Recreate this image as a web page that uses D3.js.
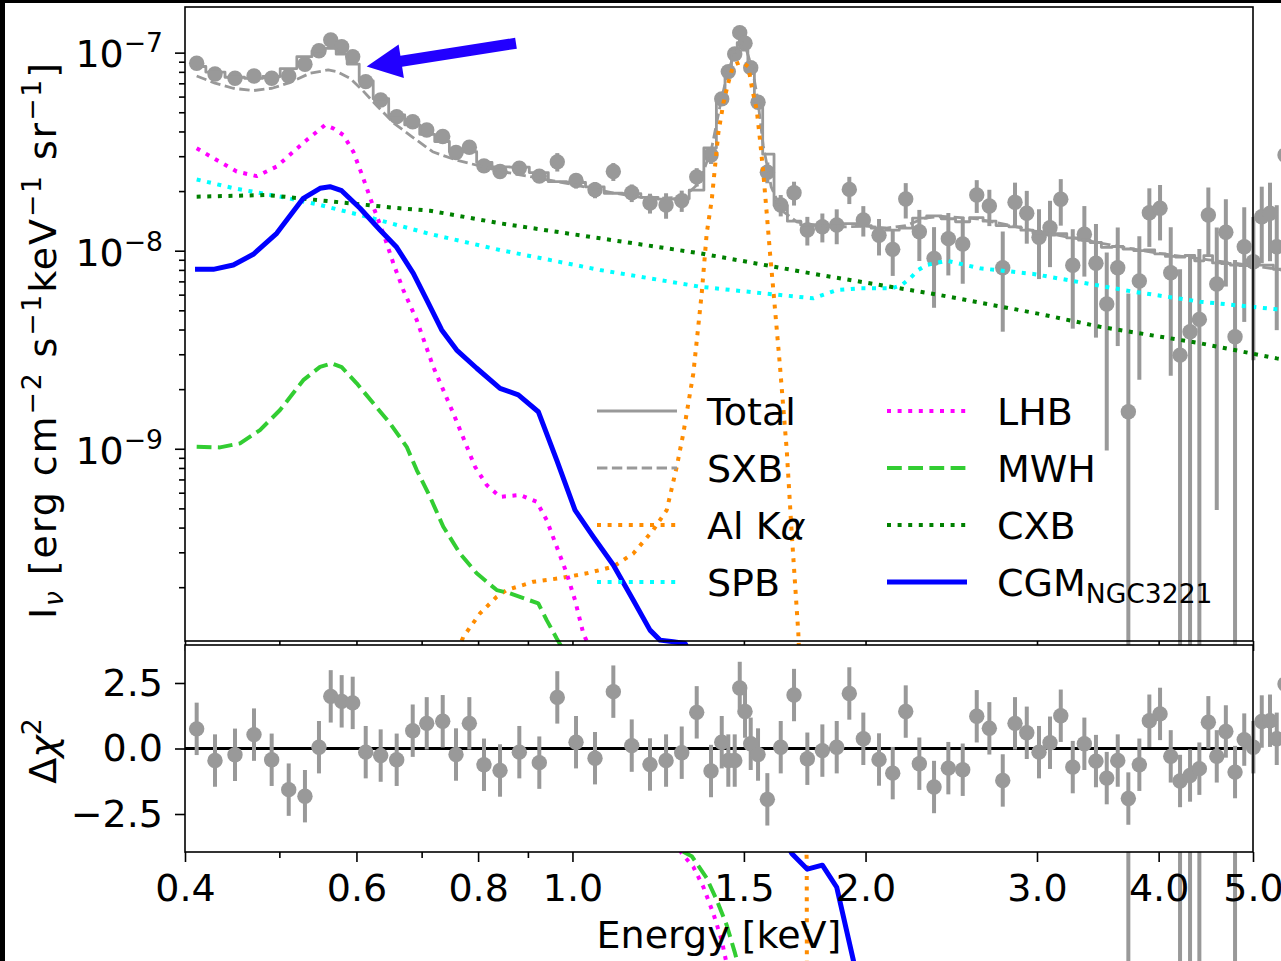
<!DOCTYPE html>
<html><head><meta charset="utf-8">
<script src="https://d3js.org/d3.v7.min.js"></script>
<style>
body{margin:0;background:#fff;}
svg{display:block;}
text{font-family:"DejaVu Sans";}
</style>
</head><body>
<svg id="chart" width="1281" height="961"></svg>
<script>
// ---------------- data ----------------
const energy = [0.4112,0.4294,0.4502,0.4709,0.4910,0.5112,0.5312,0.5491,0.5646,0.5794,
0.5947,0.6133,0.6354,0.6599,0.6854,0.7085,0.7358,0.7593,0.7836,0.8112,
0.8426,0.8819,0.9246,0.9648,1.0085,1.0548,1.1015,1.1505,1.2013,1.2478,
1.2949,1.3416,1.3878,1.4234,1.4457,1.4678,1.4853,1.5040,1.5244,1.5510,
1.5855,1.6365,1.6888,1.7428,1.8058,1.8682,1.9247,1.9895,2.0648,2.1328,
2.1994,2.2713,2.3517,2.4326,2.5168,2.6016,2.6803,2.7666,2.8480,2.9283,
3.0143,3.0937,3.1735,3.2648,3.3556,3.4489,3.5380,3.6312,3.7234,3.8215,
3.9130,4.0133,4.1161,4.2077,4.3084,4.4043,4.4990,4.5893,4.6891,4.7921,
4.8976,5.0042,5.1046,5.2052,5.2888,5.393];
const intensity = [8.84e-8,7.80e-8,7.42e-8,7.62e-8,7.42e-8,7.62e-8,8.74e-8,1.023e-7,1.159e-7,1.072e-7,
9.54e-8,7.14e-8,5.77e-8,4.75e-8,4.48e-8,4.07e-8,3.77e-8,3.13e-8,3.33e-8,2.68e-8,
2.51e-8,2.61e-8,2.38e-8,2.81e-8,2.26e-8,2.03e-8,2.51e-8,1.96e-8,1.74e-8,1.70e-8,
1.79e-8,2.36e-8,3.04e-8,5.84e-8,8.02e-8,9.85e-8,1.262e-7,1.116e-7,8.40e-8,5.62e-8,
2.49e-8,1.70e-8,1.96e-8,1.272e-8,1.321e-8,1.348e-8,2.04e-8,1.429e-8,1.196e-8,1.016e-8,
1.824e-8,1.247e-8,9.15e-9,1.150e-8,1.081e-8,1.911e-8,1.681e-8,8.20e-9,1.756e-8,1.545e-8,
1.169e-8,1.306e-8,1.818e-8,8.44e-9,1.210e-8,8.64e-9,5.38e-9,8.20e-9,1.538e-9,7.03e-9,
1.555e-8,1.637e-8,7.74e-9,2.97e-9,3.90e-9,4.50e-9,1.515e-8,6.79e-9,1.239e-8,3.68e-9,
1.047e-8,8.80e-9,1.485e-8,1.545e-8,1.047e-8,3.04e-8];
const intensityErr = [4.4e-9,3.9e-9,3.7e-9,3.8e-9,3.7e-9,4.4e-9,4.4e-9,5.0e-9,5.5e-9,5.0e-9,
4.5e-9,3.5e-9,2.9e-9,2.4e-9,2.3e-9,2.1e-9,2.0e-9,1.8e-9,1.8e-9,1.7e-9,
1.7e-9,1.8e-9,1.8e-9,3.0e-9,2.0e-9,1.9e-9,2.6e-9,2.0e-9,2.0e-9,2.5e-9,
2.2e-9,2.5e-9,3.0e-9,4.0e-9,5.0e-9,5.5e-9,6.0e-9,6.0e-9,5.0e-9,4.0e-9,
3.0e-9,2.1e-9,2.7e-9,2.1e-9,2.2e-9,2.7e-9,3.2e-9,2.5e-9,2.5e-9,2.7e-9,
3.7e-9,3.6e-9,4.0e-9,4.0e-9,4.0e-9,3.6e-9,3.5e-9,4.3e-9,4.5e-9,4.6e-9,
4.5e-9,4.8e-9,4.8e-9,4.4e-9,4.7e-9,5.0e-9,4.4e-9,4.9e-9,4.55e-9,4.8e-9,
5.1e-9,5.1e-9,5.4e-9,5.1e-9,5.4e-9,5.7e-9,5.7e-9,6.3e-9,5.8e-9,5.3e-9,
6.1e-9,6.0e-9,6.2e-9,6.6e-9,6.5e-9,9.0e-9];
const residual = [0.75,-0.46,-0.24,0.53,-0.43,-1.57,-1.82,0.05,1.99,1.80,
1.74,-0.14,-0.27,-0.43,0.68,0.96,1.04,-0.23,0.96,-0.62,
-0.84,-0.14,-0.54,1.95,0.24,-0.37,2.17,0.11,-0.61,-0.46,
-0.16,1.38,-0.86,0.24,-0.46,-0.46,2.31,1.41,0.18,-0.23,
-1.94,0.05,2.04,-0.39,-0.08,0.05,2.10,0.37,-0.42,-0.94,
1.41,-0.58,-1.47,-0.75,-0.81,1.23,0.77,-1.22,0.96,0.60,
-0.14,0.22,1.25,-0.71,0.18,-0.48,-1.13,-0.46,-1.91,-0.62,
1.06,1.32,-0.30,-1.24,-1.03,-0.77,1.00,-0.30,0.65,-0.90,
0.34,0.05,1.03,1.06,0.37,2.46];
const residualErr = 1;
const totalModel = [8.51e-8,7.98e-8,7.51e-8,7.42e-8,7.58e-8,8.31e-8,9.54e-8,1.020e-7,1.050e-7,9.82e-8,
8.76e-8,7.19e-8,5.85e-8,4.85e-8,4.32e-8,3.87e-8,3.56e-8,3.17e-8,3.16e-8,2.79e-8,
2.65e-8,2.64e-8,2.48e-8,2.23e-8,2.21e-8,2.10e-8,1.95e-8,1.94e-8,1.86e-8,1.82e-8,
1.83e-8,2.02e-8,3.30e-8,5.74e-8,8.25e-8,1.010e-7,1.123e-7,1.031e-7,8.31e-8,5.71e-8,
3.07e-8,1.69e-8,1.41e-8,1.35e-8,1.34e-8,1.33e-8,1.37e-8,1.34e-8,1.30e-8,1.27e-8,
1.30e-8,1.46e-8,1.50e-8,1.45e-8,1.40e-8,1.47e-8,1.41e-8,1.34e-8,1.32e-8,1.27e-8,
1.23e-8,1.20e-8,1.22e-8,1.16e-8,1.13e-8,1.10e-8,1.04e-8,1.05e-8,1.02e-8,1.00e-8,
1.01e-8,9.64e-9,9.36e-9,9.29e-9,9.46e-9,8.89e-9,9.45e-9,8.68e-9,8.62e-9,8.45e-9,
8.40e-9,8.50e-9,8.46e-9,8.45e-9,8.06e-9,8.0e-9];

const sxbE = [0.4112,0.4294,0.4482,0.4699,0.4914,0.5126,0.5376,0.5612,0.5730,0.5911,0.6083,0.6308,0.6558,0.6839,0.7184,0.7593,0.8031,0.85,0.92,1.0,1.1,1.2,1.3,1.35,1.39,1.42,1.445,1.467,1.49,1.51,1.53,1.55,1.57,1.60,1.64,1.70,1.80,1.9,2.0,2.1,2.2,2.3,2.4,2.6,2.8,3.0,3.3,3.6,4.0,4.5,5.0,5.35];
const sxbV = [7.62e-8,7.01e-8,6.61e-8,6.43e-8,6.61e-8,7.06e-8,7.87e-8,8.18e-8,8.02e-8,7.42e-8,6.48e-8,5.34e-8,4.40e-8,3.77e-8,3.16e-8,2.87e-8,2.68e-8,2.50e-8,2.33e-8,2.16e-8,1.96e-8,1.83e-8,1.86e-8,2.2e-8,3.3e-8,5.6e-8,8.1e-8,9.8e-8,1.08e-7,1.02e-7,8.3e-8,5.8e-8,3.4e-8,2.1e-8,1.6e-8,1.4e-8,1.33e-8,1.32e-8,1.33e-8,1.30e-8,1.34e-8,1.46e-8,1.49e-8,1.45e-8,1.35e-8,1.25e-8,1.15e-8,1.06e-8,9.7e-9,9.0e-9,8.4e-9,8.0e-9];

const alE = [0.7486,0.7725,0.8036,0.8360,0.8560,0.9116,0.9710,1.0343,1.1015,1.1548,1.2108,1.2497,1.2797,1.2998,1.3309,1.3576,1.3737,1.3901,1.4010,1.4119,1.4288,1.4437,1.4630,1.4923,1.5158,1.5280,1.5462,1.5583,1.5705,1.5832,1.5956,1.6081,1.6338,1.6599,1.6796,1.7061,1.7403,1.745];
const alV = [7.6e-11,1.123e-10,1.475e-10,1.789e-10,1.934e-10,2.13e-10,2.22e-10,2.35e-10,2.54e-10,2.96e-10,3.89e-10,4.90e-10,8.11e-10,1.196e-9,2.40e-9,6.09e-9,1.224e-8,1.804e-8,2.66e-8,3.92e-8,5.55e-8,6.87e-8,8.67e-8,9.01e-8,8.50e-8,6.73e-8,5.14e-8,3.62e-8,2.46e-8,1.545e-8,9.70e-9,6.33e-9,2.59e-9,9.85e-10,3.74e-10,1.168e-10,8.37e-12,1e-30];

const spbE = [0.4112,0.4484,0.5047,0.5505,0.6147,0.7140,0.8426,1.0674,1.3522,1.5705,1.7676,1.8682,1.9741,2.1278,2.1787,2.2219,2.2659,2.3114,2.4234,2.6220,2.9744,3.7674,4.4116,5.2888,5.38];
const spbV = [2.29e-8,2.07e-8,1.862e-8,1.701e-8,1.485e-8,1.214e-8,1.008e-8,7.99e-9,6.58e-9,6.09e-9,5.75e-9,6.33e-9,6.46e-9,6.46e-9,6.71e-9,7.25e-9,7.99e-9,8.47e-9,8.90e-9,8.15e-9,7.63e-9,6.21e-9,5.53e-9,5.06e-9,5.03e-9];

const lhbE = [0.4112,0.4311,0.4520,0.4739,0.4969,0.5168,0.5334,0.5570,0.5680,0.5816,0.5956,0.6098,0.6244,0.6393,0.6547,0.6703,0.6919,0.7196,0.7545,0.7942,0.8165,0.8426,0.8834,0.9190,0.9409,0.9635,0.9865,1.0061,1.0260,1.2949,1.3309,1.3627,1.3954,1.4234,1.4516,1.4846];
const lhbV = [3.29e-8,2.87e-8,2.51e-8,2.38e-8,2.66e-8,3.16e-8,3.62e-8,4.31e-8,4.15e-8,3.84e-8,3.16e-8,2.32e-8,1.668e-8,1.224e-8,8.64e-9,6.33e-9,4.47e-9,2.59e-9,1.51e-9,8.11e-10,6.56e-10,5.72e-10,5.84e-10,5.40e-10,4.36e-10,3.20e-10,2.35e-10,1.72e-10,1.168e-10,9.05e-12,7.74e-12,6.14e-12,4.50e-12,3.30e-12,2.07e-12,1.16e-12];

const mwhE = [0.4112,0.4345,0.4556,0.4776,0.5008,0.5291,0.5505,0.5659,0.5794,0.6004,0.6244,0.6496,0.6757,0.6919,0.7140,0.7368,0.7665,0.7974,0.8360,0.8627,0.9224,0.9409,0.9635,1.2897,1.3259,1.3737,1.4066,1.4403,1.4688,1.5040];
const mwhV = [1.023e-9,1.016e-9,1.065e-9,1.243e-9,1.569e-9,2.22e-9,2.59e-9,2.70e-9,2.58e-9,2.14e-9,1.696e-9,1.344e-9,1.023e-9,7.81e-10,5.72e-10,4.04e-10,2.96e-10,2.35e-10,1.934e-10,1.861e-10,1.657e-10,1.364e-10,1.102e-10,9.40e-12,8.77e-12,6.79e-12,5.26e-12,3.93e-12,2.84e-12,1.85e-12];

const cxbE = [0.4112,0.4853,0.5680,0.6651,0.7140,0.8426,1.0674,1.3522,1.7958,2.3853,3.0219,3.4824,4.4116,5.2888,5.38];
const cxbV = [1.874e-8,1.911e-8,1.769e-8,1.637e-8,1.592e-8,1.375e-8,1.155e-8,9.70e-9,7.54e-9,5.97e-9,4.79e-9,4.13e-9,3.41e-9,2.86e-9,2.82e-9];

const cgmE = [0.4096,0.4277,0.4484,0.4701,0.4969,0.5291,0.5505,0.5636,0.5794,0.6051,0.6344,0.6599,0.6864,0.7085,0.7340,0.7605,0.7974,0.8426,0.8798,0.9224,0.9635,1.0061,1.0506,1.1015,1.1548,1.2013,1.2301,1.2694,1.3050,1.6796,1.7428,1.8058,1.8682,1.9430,1.9895,2.0648];
const cgmV = [8.05e-9,8.05e-9,8.47e-9,9.59e-9,1.224e-8,1.839e-8,2.066e-8,2.104e-8,2.009e-8,1.637e-8,1.272e-8,1.040e-8,7.69e-9,5.64e-9,3.98e-9,3.15e-9,2.55e-9,2.02e-9,1.87e-9,1.538e-9,8.77e-10,4.90e-10,3.59e-10,2.59e-10,1.72e-10,1.214e-10,1.081e-10,1.060e-10,1.040e-10,9.05e-12,7.54e-12,7.90e-12,6.11e-12,2.62e-12,1.3e-12,5e-13];

const zeroLineE = [0.4, 4.9];
const arrowFrom = [0.875, 1.116e-7];
const arrowTo = [0.6147, 8.50e-8];

const xTicks = [0.4,0.6,0.8,1.0,1.5,2.0,3.0,4.0,5.0];
const xTickLabels = ["0.4","0.6","0.8","1.0","1.5","2.0","3.0","4.0","5.0"];
const xMinorTicks = [0.5,0.7,0.9];
const yTopTicks = [1e-9,1e-8,1e-7];
const yTopExponents = ["\u22129","\u22128","\u22127"];
const yBotTicks = [-2.5,0.0,2.5];
const yBotTickLabels = ["\u22122.5","0.0","2.5"];
const legendLabels = ["Total","SXB","Al K\u03b1","SPB","LHB","MWH","CXB","CGM_NGC3221"];

// ---------------- layout ----------------
const W = 1281, H = 961;
const X0 = 185, X1 = 1253, TT = 7, TB = 641, BT = 645, BB = 852;
const FS = 38;
const GRAY = "#999999";

const x = d3.scaleLog().domain([0.4, 5.0]).range([X0, X1]);
const yT = d3.scaleLog().domain([1.07e-10, 1.7e-7]).range([TB, TT]);
const yB = d3.scaleLinear().domain([-3.95, 3.95]).range([BB, BT]);
const FLOOR = 1e-16;
const yv = v => yT(Math.max(v, FLOOR));

const svg = d3.select("#chart");
svg.append("rect").attr("width", W).attr("height", H).attr("fill", "#fff");

function styleAxis(g) {
  g.select(".domain").remove();
  g.selectAll(".tick line").attr("stroke", "#000").attr("stroke-width", 1.6);
  g.attr("font-family", "DejaVu Sans").attr("font-size", FS);
  g.selectAll(".tick text").attr("fill", "#000");
}

// ================= TOP PANEL =================
const gTop = svg.append("g");

gTop.append("g").attr("transform", `translate(0,${TB})`)
  .call(d3.axisBottom(x).tickValues(xTicks).tickSize(10).tickFormat(""))
  .call(styleAxis);
gTop.append("g").attr("transform", `translate(0,${TB})`)
  .call(d3.axisBottom(x).tickValues(xMinorTicks).tickSize(6).tickFormat(""))
  .call(styleAxis);

const gyT = gTop.append("g").attr("transform", `translate(${X0},0)`)
  .call(d3.axisLeft(yT).tickValues(yTopTicks).tickSize(10).tickFormat(""))
  .call(styleAxis);
gyT.selectAll(".tick").each(function(d, i) {
  const t = d3.select(this).append("text")
    .attr("x", -22).attr("y", 14.3).attr("text-anchor", "end").attr("fill", "#000")
    .attr("font-size", FS);
  t.append("tspan").text("10");
  t.append("tspan").attr("font-size", FS * 0.7).attr("dy", -15).text(yTopExponents[i]);
});
const yMinor = yT.ticks().filter(v => Math.abs(Math.log10(v) - Math.round(Math.log10(v))) > 1e-6);
gTop.append("g").attr("transform", `translate(${X0},0)`)
  .call(d3.axisLeft(yT).tickValues(yMinor).tickSize(6).tickFormat(""))
  .call(styleAxis);

// data points with error bars (top)
const pts = energy.map((e, i) => ({e, v: intensity[i], s: intensityErr[i]}));
const gData = gTop.append("g");
gData.selectAll("line.err").data(pts).join("line")
  .attr("x1", d => x(d.e)).attr("x2", d => x(d.e))
  .attr("y1", d => yv(d.v - d.s)).attr("y2", d => yv(d.v + d.s))
  .attr("stroke", GRAY).attr("stroke-width", 4);
gData.selectAll("circle").data(pts).join("circle")
  .attr("cx", d => x(d.e)).attr("cy", d => yv(d.v)).attr("r", 7.7).attr("fill", GRAY);

// model lines
const line = d3.line().x(d => x(d[0])).y(d => yv(d[1]));
const zipE = (E, V) => E.map((e, i) => [e, V[i]]);
const models = [
  {data: zipE(energy, totalModel), color: GRAY, w: 2.8, dash: null, step: true},
  {data: zipE(sxbE, sxbV), color: GRAY, w: 2.8, dash: "10.4,4.5"},
  {data: zipE(alE, alV), color: "#ff8c00", w: 4, dash: "4,6.6"},
  {data: zipE(spbE, spbV), color: "#00ffff", w: 4, dash: "4,6.6"},
  {data: zipE(lhbE, lhbV), color: "#ff00ff", w: 4, dash: "4,6.6"},
  {data: zipE(mwhE, mwhV), color: "#32cd32", w: 4, dash: "14.8,6.4"},
  {data: zipE(cxbE, cxbV), color: "#008000", w: 4, dash: "4,6.6"},
  {data: zipE(cgmE, cgmV), color: "#0000ff", w: 5, dash: null}
];
models.forEach(m => {
  const ln = m.step ? d3.line().x(d => x(d[0])).y(d => yv(d[1])).curve(d3.curveStep) : line;
  gTop.append("path").attr("d", ln(m.data)).attr("fill", "none")
    .attr("stroke", m.color).attr("stroke-width", m.w)
    .attr("stroke-dasharray", m.dash).attr("stroke-linejoin", "round");
});

// arrow
(function() {
  const p0 = [x(arrowFrom[0]), yv(arrowFrom[1])];
  const p1 = [x(arrowTo[0]), yv(arrowTo[1])];
  const dx = p1[0] - p0[0], dy = p1[1] - p0[1], L = Math.hypot(dx, dy);
  const u = [dx / L, dy / L], n = [-u[1], u[0]];
  const hl = 35, hw = 17, sw = 5.5;
  const b = [p1[0] - u[0] * hl, p1[1] - u[1] * hl];
  const P = [
    [p0[0] + n[0] * sw, p0[1] + n[1] * sw],
    [b[0] + n[0] * sw, b[1] + n[1] * sw],
    [b[0] + n[0] * hw, b[1] + n[1] * hw],
    p1,
    [b[0] - n[0] * hw, b[1] - n[1] * hw],
    [b[0] - n[0] * sw, b[1] - n[1] * sw],
    [p0[0] - n[0] * sw, p0[1] - n[1] * sw]
  ];
  gTop.append("path").attr("d", "M" + P.map(p => p.join(",")).join("L") + "Z").attr("fill", "#2200ff");
})();

// legend
const legStyles = [
  {color: GRAY, w: 2.8, dash: null},
  {color: GRAY, w: 2.8, dash: "10.4,4.5"},
  {color: "#ff8c00", w: 4, dash: "4,6.6"},
  {color: "#00ffff", w: 4, dash: "4,6.6"},
  {color: "#ff00ff", w: 4, dash: "4,6.6"},
  {color: "#32cd32", w: 4, dash: "14.8,6.4"},
  {color: "#008000", w: 4, dash: "4,6.6"},
  {color: "#0000ff", w: 5, dash: null}
];
const rowsY = [411, 468, 525, 582], colHx = [597, 887], colTx = [707, 997];
const gLeg = gTop.append("g");
legendLabels.forEach((lab, i) => {
  const c = Math.floor(i / 4), r = i % 4, s = legStyles[i];
  gLeg.append("line").attr("x1", colHx[c]).attr("x2", colHx[c] + 80)
    .attr("y1", rowsY[r]).attr("y2", rowsY[r])
    .attr("stroke", s.color).attr("stroke-width", s.w).attr("stroke-dasharray", s.dash);
  const t = gLeg.append("text").attr("x", colTx[c]).attr("y", rowsY[r] + 13.8)
    .attr("font-size", FS).attr("fill", "#000");
  if (lab.indexOf("_") >= 0) {
    const [a, b] = lab.split("_");
    t.append("tspan").text(a);
    t.append("tspan").attr("font-size", FS * 0.7).attr("dy", 7).text(b);
  } else if (lab.indexOf("\u03b1") >= 0) {
    t.append("tspan").text(lab.replace("\u03b1", ""));
    t.append("tspan").attr("font-style", "italic").text("\u03b1");
  } else {
    t.text(lab);
  }
});

// top frame
gTop.append("rect").attr("x", X0).attr("y", TT).attr("width", X1 - X0).attr("height", TB - TT)
  .attr("fill", "none").attr("stroke", "#000").attr("stroke-width", 1.6);

// ================= BOTTOM PANEL =================
const gBot = svg.append("g");
gBot.append("rect").attr("x", X0).attr("y", BT).attr("width", X1 - X0).attr("height", BB - BT)
  .attr("fill", "#fff");
gBot.append("path")
  .attr("d", d3.line().x(d => x(d)).y(() => yB(0))(zeroLineE))
  .attr("stroke", "#000").attr("stroke-width", 3.2).attr("fill", "none");
const rpts = energy.map((e, i) => ({e, r: residual[i]}));
gBot.selectAll("line.rerr").data(rpts).join("line")
  .attr("x1", d => x(d.e)).attr("x2", d => x(d.e))
  .attr("y1", d => yB(d.r - residualErr)).attr("y2", d => yB(d.r + residualErr))
  .attr("stroke", GRAY).attr("stroke-width", 4);
gBot.selectAll("circle").data(rpts).join("circle")
  .attr("cx", d => x(d.e)).attr("cy", d => yB(d.r)).attr("r", 7.7).attr("fill", GRAY);

gBot.append("rect").attr("x", X0).attr("y", BT).attr("width", X1 - X0).attr("height", BB - BT)
  .attr("fill", "none").attr("stroke", "#000").attr("stroke-width", 1.6);

gBot.append("g").attr("transform", `translate(0,${BB})`)
  .call(d3.axisBottom(x).tickValues(xTicks).tickSize(10).tickPadding(12)
    .tickFormat((d, i) => xTickLabels[i]))
  .call(styleAxis);
gBot.append("g").attr("transform", `translate(0,${BB})`)
  .call(d3.axisBottom(x).tickValues(xMinorTicks).tickSize(6).tickFormat(""))
  .call(styleAxis);
gBot.append("g").attr("transform", `translate(${X0},0)`)
  .call(d3.axisLeft(yB).tickValues(yBotTicks).tickSize(10).tickPadding(12)
    .tickFormat((d, i) => yBotTickLabels[i]))
  .call(styleAxis);

// axis labels
svg.append("text").attr("x", (X0 + X1) / 2).attr("y", 948).attr("text-anchor", "middle")
  .attr("font-size", FS).attr("fill", "#000").text("Energy [keV]");

const yl = svg.append("text").attr("transform", "translate(56,341) rotate(-90)")
  .attr("text-anchor", "middle").attr("font-size", FS).attr("fill", "#000")
  .attr("textLength", 556).attr("lengthAdjust", "spacing");
[["I", 0], ["\u03bd", 1], [" [erg cm", 0], ["\u22122", 2], [" s", 0], ["\u22121", 2],
 ["keV", 0], ["\u22121", 2], [" sr", 0], ["\u22121", 2], ["]", 0]].reduce((prev, [txt, kind]) => {
  const target = kind === 1 ? 7 : kind === 2 ? -15 : 0;
  const ts = yl.append("tspan").attr("dy", target - prev).text(txt);
  if (kind) ts.attr("font-size", FS * 0.7);
  if (kind === 1) ts.attr("font-style", "italic");
  return target;
}, 0);

const dl = svg.append("text").attr("transform", "translate(56,751) rotate(-90)")
  .attr("text-anchor", "middle").attr("font-size", FS).attr("fill", "#000");
dl.append("tspan").text("\u0394");
dl.append("tspan").attr("font-style", "italic").text("\u03c7");
dl.append("tspan").attr("font-size", FS * 0.7).attr("dy", -15).text("2");

// black strips at the top and left edges of the picture
svg.append("rect").attr("x", 0).attr("y", 0).attr("width", W).attr("height", 3).attr("fill", "#000");
svg.append("rect").attr("x", 0).attr("y", 0).attr("width", 5).attr("height", H).attr("fill", "#000");
</script>
</body></html>
